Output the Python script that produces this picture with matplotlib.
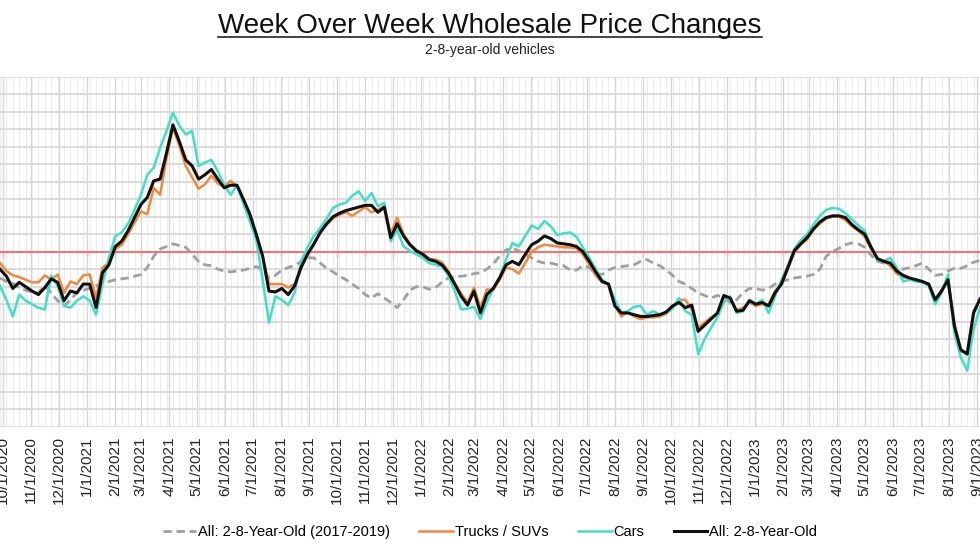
import numpy as np
import pandas as pd
import matplotlib
matplotlib.use('Agg')
import matplotlib.pyplot as plt
from matplotlib.lines import Line2D

plt.rcParams['font.family'] = ['Liberation Sans', 'DejaVu Sans']

# weekly observations (% change week over week)
weeks = pd.date_range('2020-09-28', periods=154, freq='7D')

all_2017_2019 = [
    -0.30, -0.34, -0.36, -0.41, -0.44, -0.46, -0.47, -0.39, -0.47, -0.56,
    -0.62, -0.55, -0.47, -0.44, -0.42, -0.39, -0.35, -0.34, -0.32, -0.31,
    -0.30, -0.28, -0.26, -0.18, -0.05, 0.03, 0.06, 0.09, 0.07, 0.05,
    -0.03, -0.11, -0.15, -0.16, -0.20, -0.22, -0.23, -0.22, -0.21, -0.19,
    -0.17, -0.20, -0.30, -0.27, -0.21, -0.18, -0.16, -0.11, -0.07, -0.07,
    -0.13, -0.19, -0.23, -0.28, -0.32, -0.37, -0.42, -0.49, -0.53, -0.48,
    -0.53, -0.58, -0.64, -0.55, -0.44, -0.40, -0.40, -0.43, -0.41, -0.35,
    -0.30, -0.29, -0.28, -0.27, -0.25, -0.24, -0.20, -0.14, -0.05, 0.02,
    0.04, 0.01, -0.03, -0.07, -0.11, -0.13, -0.13, -0.15, -0.16, -0.21,
    -0.21, -0.16, -0.18, -0.25, -0.26, -0.21, -0.18, -0.17, -0.16, -0.15,
    -0.11, -0.09, -0.13, -0.16, -0.21, -0.27, -0.34, -0.37, -0.42, -0.47,
    -0.50, -0.53, -0.50, -0.52, -0.58, -0.55, -0.47, -0.42, -0.42, -0.44,
    -0.42, -0.37, -0.34, -0.32, -0.30, -0.29, -0.28, -0.26, -0.20, -0.05,
    0.00, 0.04, 0.08, 0.10, 0.09, 0.05, -0.04, -0.11, -0.13, -0.16,
    -0.19, -0.20, -0.18, -0.16, -0.13, -0.20, -0.27, -0.26, -0.22, -0.19,
    -0.19, -0.16, -0.12, -0.10,
]

trucks_suvs = [
    -0.13, -0.22, -0.27, -0.29, -0.32, -0.35, -0.35, -0.27, -0.32, -0.26,
    -0.47, -0.34, -0.37, -0.27, -0.26, -0.53, -0.18, -0.13, 0.03, 0.08,
    0.20, 0.33, 0.46, 0.43, 0.73, 0.65, 1.07, 1.42, 1.21, 0.98,
    0.85, 0.72, 0.77, 0.87, 0.78, 0.74, 0.81, 0.75, 0.60, 0.43,
    0.20, -0.05, -0.37, -0.37, -0.37, -0.41, -0.37, -0.19, -0.03, 0.08,
    0.22, 0.31, 0.38, 0.42, 0.45, 0.41, 0.46, 0.51, 0.45, 0.48,
    0.52, 0.20, 0.39, 0.20, 0.09, 0.02, -0.02, -0.08, -0.09, -0.12,
    -0.22, -0.36, -0.48, -0.58, -0.41, -0.64, -0.43, -0.44, -0.32, -0.18,
    -0.20, -0.25, -0.13, 0.00, 0.05, 0.08, 0.07, 0.06, 0.05, 0.05,
    0.04, -0.03, -0.15, -0.27, -0.35, -0.37, -0.62, -0.74, -0.69, -0.74,
    -0.77, -0.75, -0.75, -0.74, -0.71, -0.64, -0.55, -0.55, -0.66, -0.87,
    -0.81, -0.75, -0.72, -0.51, -0.54, -0.67, -0.64, -0.58, -0.62, -0.60,
    -0.60, -0.45, -0.37, -0.20, -0.01, 0.08, 0.14, 0.25, 0.32, 0.38,
    0.40, 0.40, 0.36, 0.29, 0.24, 0.17, 0.03, -0.09, -0.11, -0.16,
    -0.25, -0.29, -0.31, -0.32, -0.35, -0.37, -0.54, -0.44, -0.32, -0.81,
    -1.14, -1.15, -0.67, -0.55,
]

cars = [
    -0.39, -0.55, -0.74, -0.49, -0.56, -0.60, -0.64, -0.66, -0.27, -0.39,
    -0.62, -0.64, -0.56, -0.51, -0.56, -0.72, -0.37, -0.07, 0.18, 0.22,
    0.32, 0.48, 0.65, 0.88, 0.96, 1.19, 1.38, 1.59, 1.44, 1.34,
    1.38, 0.98, 1.02, 1.05, 0.92, 0.76, 0.65, 0.76, 0.55, 0.35,
    0.14, -0.32, -0.81, -0.51, -0.55, -0.61, -0.47, -0.11, 0.05, 0.18,
    0.27, 0.38, 0.50, 0.54, 0.56, 0.64, 0.69, 0.58, 0.67, 0.52,
    0.56, 0.12, 0.25, 0.06, 0.01, -0.03, -0.07, -0.13, -0.15, -0.17,
    -0.27, -0.45, -0.66, -0.65, -0.63, -0.77, -0.58, -0.42, -0.29, -0.09,
    0.10, 0.06, 0.18, 0.30, 0.26, 0.35, 0.29, 0.19, 0.21, 0.22,
    0.17, 0.05, -0.07, -0.20, -0.32, -0.37, -0.55, -0.70, -0.68, -0.63,
    -0.62, -0.72, -0.68, -0.72, -0.70, -0.65, -0.53, -0.68, -0.72, -1.17,
    -1.00, -0.87, -0.75, -0.58, -0.51, -0.70, -0.68, -0.55, -0.60, -0.55,
    -0.70, -0.51, -0.32, -0.17, 0.03, 0.13, 0.20, 0.31, 0.41, 0.48,
    0.50, 0.49, 0.44, 0.37, 0.30, 0.24, 0.06, -0.10, -0.11, -0.07,
    -0.18, -0.34, -0.32, -0.34, -0.35, -0.39, -0.60, -0.47, -0.26, -0.93,
    -1.21, -1.36, -0.89, -0.64,
]

all_2_8 = [
    -0.20, -0.28, -0.42, -0.35, -0.40, -0.45, -0.49, -0.41, -0.31, -0.35,
    -0.56, -0.45, -0.47, -0.37, -0.37, -0.64, -0.24, -0.15, 0.06, 0.12,
    0.24, 0.39, 0.54, 0.62, 0.81, 0.83, 1.13, 1.45, 1.26, 1.05,
    0.98, 0.83, 0.88, 0.94, 0.83, 0.73, 0.76, 0.76, 0.60, 0.43,
    0.20, -0.05, -0.45, -0.46, -0.42, -0.49, -0.39, -0.18, -0.03, 0.09,
    0.22, 0.32, 0.40, 0.44, 0.47, 0.49, 0.51, 0.53, 0.53, 0.45,
    0.51, 0.16, 0.32, 0.18, 0.08, 0.01, -0.03, -0.09, -0.11, -0.15,
    -0.24, -0.37, -0.51, -0.61, -0.45, -0.70, -0.49, -0.42, -0.30, -0.15,
    -0.11, -0.15, -0.03, 0.08, 0.12, 0.18, 0.15, 0.10, 0.09, 0.08,
    0.06, 0.00, -0.11, -0.23, -0.34, -0.37, -0.62, -0.70, -0.70, -0.72,
    -0.74, -0.74, -0.73, -0.72, -0.69, -0.62, -0.58, -0.64, -0.61, -0.91,
    -0.84, -0.77, -0.70, -0.50, -0.53, -0.68, -0.67, -0.56, -0.60, -0.58,
    -0.62, -0.47, -0.37, -0.18, 0.01, 0.09, 0.16, 0.26, 0.34, 0.39,
    0.41, 0.41, 0.39, 0.31, 0.25, 0.20, 0.05, -0.08, -0.11, -0.13,
    -0.22, -0.27, -0.30, -0.32, -0.34, -0.37, -0.55, -0.45, -0.32, -0.85,
    -1.12, -1.17, -0.70, -0.54,
]

months = pd.date_range('2020-10-01', '2023-09-01', freq='MS')
month_labels = [f'{d.month}/{d.day}/{d.year}' for d in months]

fig = plt.figure(figsize=(9.8, 5.52), dpi=100)
ax = fig.add_axes([0, 0.227, 1, 0.634])

ax.plot(weeks, all_2017_2019, color='#a0a0a0', lw=2.0, dashes=(3.0, 1.7),
        label='All: 2-8-Year-Old (2017-2019)', zorder=3)
ax.plot(weeks, trucks_suvs, color='#f4873b', lw=1.8, label='Trucks / SUVs', zorder=4)
ax.plot(weeks, cars, color='#3fe0c5', lw=1.8, label='Cars', zorder=5)
ax.plot(weeks, all_2_8, color='#111111', lw=2.2, label='All: 2-8-Year-Old', zorder=6)

ax.axhline(0, color='#ff6b6b', lw=1.4, zorder=2)
zero_ax = ax.secondary_xaxis(0, transform=ax.transData)
zero_ax.set_xticks(months)
zero_ax.tick_params(axis='x', length=3.5, width=1, color='#ff6b6b', labelbottom=False)
zero_ax.spines['bottom'].set_visible(False)

ax.set_xlim(pd.Timestamp('2020-09-28 12:00'), pd.Timestamp('2023-08-28 12:00'))
ax.set_ylim(-2.0, 2.0)
ax.set_yticks(np.arange(-2.0, 2.01, 0.2))
ax.set_yticklabels([])
ax.set_xticks(months)
ax.set_xticklabels(month_labels, rotation=90, fontsize=11, color='#222222')
ax.set_xticks(weeks, minor=True)
ax.tick_params(axis='both', which='both', length=0)
ax.tick_params(axis='x', pad=7)

ax.grid(axis='y', color='#d9d9d9', lw=1.3, zorder=0)
ax.grid(axis='x', which='major', color='#d4d4d4', lw=0.9, zorder=0)
ax.grid(axis='x', which='minor', color='#ececec', lw=0.8, zorder=0)
for s in ax.spines.values():
    s.set_visible(False)

fig.legend(loc='center', bbox_to_anchor=(0.5, 1 - 532 / 552), ncol=4, frameon=False,
           fontsize=10.5, handlelength=2.3, handletextpad=0.15, columnspacing=2.0)

title = fig.text(0.5, 1 - 33 / 552, 'Week Over Week Wholesale Price Changes',
                 ha='center', va='baseline', fontsize=20, color='#111111')
fig.text(0.5, 1 - 50 / 552, '2-8-year-old vehicles', ha='center', va='center',
         fontsize=10, color='#222222')

# underline the title
fig.canvas.draw()
bb = title.get_window_extent().transformed(fig.transFigure.inverted())
uy = 1 - 37 / 552
fig.add_artist(Line2D([bb.x0, bb.x1], [uy, uy], color='#222222', lw=1.2,
                      transform=fig.transFigure))

fig.savefig('out.png', dpi=100)
